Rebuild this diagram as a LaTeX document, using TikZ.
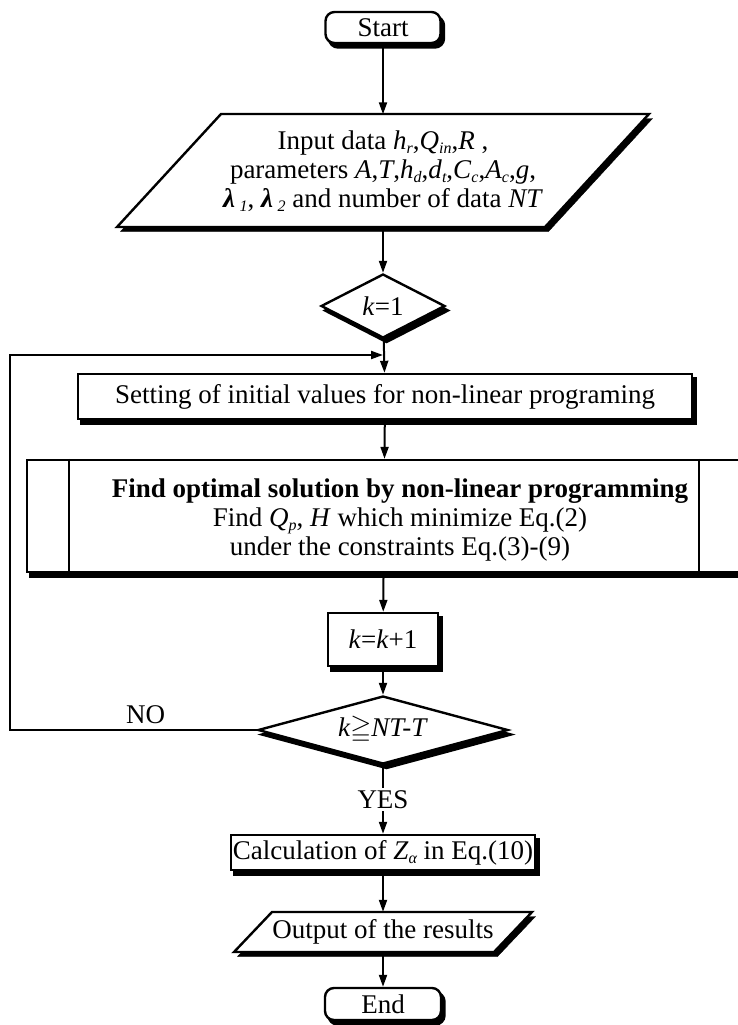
\documentclass[tikz,border=0pt]{standalone}
\usepackage{fontspec}
\usepackage{amssymb}
\setmainfont{Liberation Serif}
\usetikzlibrary{shapes.geometric,arrows.meta,shadows}
\newcommand\sbs[1]{\raisebox{-0.15em}{\fontsize{16}{16}\selectfont\itshape #1}}
\begin{document}
\begin{tikzpicture}[x=1pt,y=-1pt,
  font=\fontsize{27}{29}\selectfont,
  shad/.style={copy shadow={shadow xshift=3.5pt, shadow yshift=-4.5pt, fill=black, draw=black}},
  box/.style={draw, line width=2.4pt, fill=white, inner sep=0pt, shad},
  term/.style={box, rounded corners=9pt},
  dia/.style={box, shape=diamond},
  txt/.style={inner sep=0pt, align=center},
  pshape/.style={draw, line width=2.4pt, fill=white, shad},
  arr/.style={line width=2pt, -{Triangle[length=12pt,width=8pt]}}]
\useasboundingbox (0,0) rectangle (738,1025);
% shapes
\node[term, minimum width=115, minimum height=31] (start) at (383,27.5) {Start};
\draw[pshape] (221,114) -- (649,114) -- (545,227) -- (117,227) -- cycle;
\node[txt, minimum height=113] (inp) at (383,171) {Input data \textit{h}\sbs{r},\textit{Q}\sbs{in},\textit{R} ,\\
parameters \textit{A},\textit{T},\textit{h}\sbs{d},\textit{d}\sbs{t},\textit{C}\sbs{c},\textit{A}\sbs{c},\textit{g},\\
\textbf{\textit{λ}}\,\sbs{1}, \textbf{\textit{λ}}\,\sbs{2} and number of data \textit{NT}};
\node[dia, aspect=1.94, minimum width=124, minimum height=64] (d1) at (383,306) {\textit{k}=1};
\node[box, minimum width=614, minimum height=45] (set) at (385,396.5) {Setting of initial values for non-linear programing};
\node[box, minimum width=714, minimum height=112] (find) at (384,516) {};
\draw[line width=2.4pt] ([xshift=43pt]find.north west) -- ([xshift=43pt]find.south west);
\draw[line width=2.4pt] ([xshift=-43pt]find.north east) -- ([xshift=-43pt]find.south east);
\node[txt] (findtxt) at (400,520) {\textbf{Find optimal solution by non-linear programming}\\
Find \textit{Q}\sbs{p}, \textit{H} which minimize Eq.(2)\\
under the constraints Eq.(3)-(9)};
\node[box, minimum width=110, minimum height=53] (inc) at (383,639.5) {\textit{k}=\textit{k}+1};
\node[dia, aspect=3.7, minimum width=250, minimum height=68] (d2) at (383,730) {\textit{k}$\geqq$\textit{NT-T}};
\node[box, minimum width=304, minimum height=35] (calc) at (383,852.5) {Calculation of \textit{Z}\sbs{α} in Eq.(10)};
\draw[pshape] (272,912) -- (532,912) -- (494,952) -- (234,952) -- cycle;
\node[txt, minimum height=40] (out) at (383,932) {Output of the results};
\node[term, minimum width=116, minimum height=32] (end) at (383,1004) {End};
% connectors
\coordinate (loopa) at (10,730);
\coordinate (join) at (383,355);
\draw[arr] (start) -- (inp);
\draw[arr] (inp) -- (d1);
\draw[arr] (d1) -- (set);
\draw[arr] (set) -- (find);
\draw[arr] (find) -- (inc);
\draw[arr] (inc) -- (d2);
\draw[arr] (d2.west) -- node[above=2pt, pos=0.45] (no) {NO} (loopa) |- (join);
\draw[arr] (d2) -- node[fill=white, inner sep=2pt] (yes) {YES} (calc);
\draw[arr] (calc) -- (out);
\draw[arr] (out) -- (end);
\end{tikzpicture}
\end{document}
